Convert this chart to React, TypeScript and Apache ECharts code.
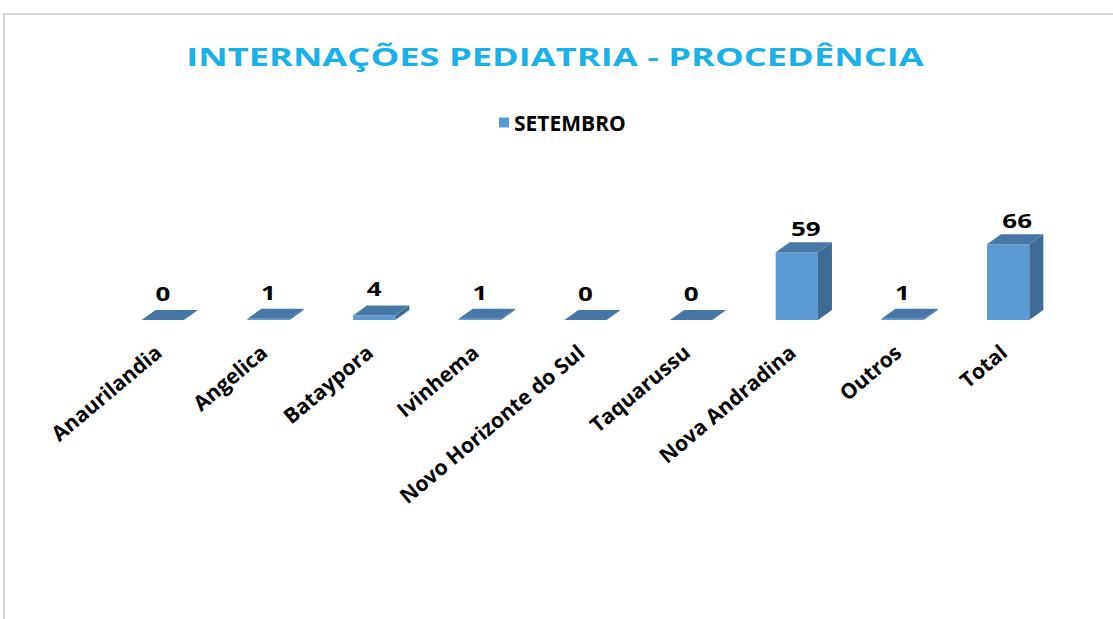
import React, { useEffect, useRef } from "react";
import * as echarts from "echarts";

const categories = [
  "Anaurilandia",
  "Angelica",
  "Bataypora",
  "Ivinhema",
  "Novo Horizonte do Sul",
  "Taquarussu",
  "Nova Andradina",
  "Outros",
  "Total",
];
const seriesName = "SETEMBRO";
const values = [0, 1, 4, 1, 0, 0, 59, 1, 66];
const titleText = "INTERNAÇÕES PEDIATRIA - PROCEDÊNCIA";

const FONT = "'Open Sans', 'Noto Sans', sans-serif";

export default function App() {
  const ref = useRef<HTMLDivElement>(null);
  useEffect(() => {
    if (!ref.current) return;
    const chart = echarts.init(ref.current, null, { renderer: "svg" });
    const dx = 14;
    const dy = 10;
    chart.setOption({
      animation: false,
      backgroundColor: "#ffffff",
      legend: {
        data: [seriesName],
        top: 107,
        left: 494,
        icon: "rect",
        itemWidth: 10,
        itemHeight: 10,
        itemGap: 11,
        textStyle: { color: "#000", fontSize: 21, fontWeight: "bold", fontFamily: FONT },
      },
      graphic: [
        {
          type: "rect",
          shape: { x: 4, y: 14, width: 1200, height: 700 },
          style: { fill: "none", stroke: "#d9d9d9", lineWidth: 2 },
          silent: true,
        },
        {
          type: "text",
          x: 555,
          y: 56,
          scaleX: 1.45,
          silent: true,
          style: {
            text: titleText,
            x: 0,
            y: 0,
            align: "center",
            verticalAlign: "middle",
            fill: "#19b0ec",
            fontSize: 25,
            fontWeight: "bold",
            fontFamily: FONT,
          },
        },
      ],
      grid: { left: 110, right: 52, top: 234, bottom: 299 },
      xAxis: {
        type: "category",
        data: categories,
        axisLine: { show: false },
        axisTick: { show: false },
        axisLabel: {
          interval: 0,
          rotate: 40,
          margin: 25,
          padding: [0, 6, 0, 0],
          color: "#000",
          fontSize: 21,
          fontWeight: "bold",
          fontFamily: FONT,
        },
      },
      yAxis: { type: "value", min: 0, max: 75, show: false, splitLine: { show: false } },
      series: [
        {
          name: seriesName,
          type: "custom",
          itemStyle: { color: "#5b9bd5" },
          encode: { x: 0, y: 1 },
          data: values.map((v, i) => [i, v]),
          renderItem: (params: any, api: any) => {
            const idx = api.value(0);
            const val = api.value(1);
            const base = api.coord([idx, 0]);
            const top = api.coord([idx, val]);
            const band = api.size([1, 0])[0];
            const w = band * 0.4;
            const x0 = base[0] - w / 2;
            const x1 = base[0] + w / 2;
            const yb = base[1];
            const yt = top[1];
            const labelX = base[0] + (val > 10 ? 9 : 0);
            const labelY = yt - dy - (val > 10 ? 4 : 7);
            return {
              type: "group",
              children: [
                {
                  type: "rect",
                  shape: { x: x0, y: yt, width: w, height: yb - yt },
                  style: { fill: "#5b9bd5" },
                },
                {
                  type: "polygon",
                  shape: {
                    points: [
                      [x1, yb],
                      [x1 + dx, yb - dy],
                      [x1 + dx, yt - dy],
                      [x1, yt],
                    ],
                  },
                  style: { fill: "#3d6b95" },
                },
                {
                  type: "polygon",
                  shape: {
                    points: [
                      [x0, yt],
                      [x1, yt],
                      [x1 + dx, yt - dy],
                      [x0 + dx, yt - dy],
                    ],
                  },
                  style: { fill: "#4677a6" },
                },
                {
                  type: "text",
                  x: labelX,
                  y: labelY,
                  scaleX: 1.3,
                  style: {
                    text: String(val),
                    x: 0,
                    y: 0,
                    align: "center",
                    verticalAlign: "bottom",
                    fill: "#000",
                    fontSize: 20,
                    fontWeight: "bold",
                    fontFamily: FONT,
                  },
                },
              ],
            };
          },
        },
      ],
    });
    return () => chart.dispose();
  }, []);
  return (
    <div
      ref={ref}
      style={{ position: "fixed", left: 0, top: 0, width: 1113, height: 619 }}
    />
  );
}
